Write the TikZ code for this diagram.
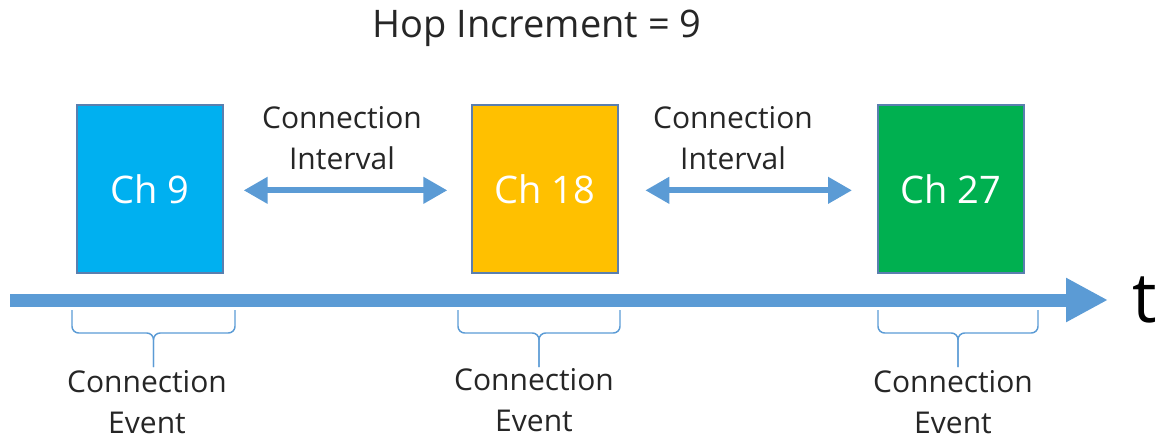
\documentclass[tikz,border=0pt]{standalone}
\usepackage{fontspec}
\setmainfont{Open Sans}
\usetikzlibrary{arrows.meta,positioning}

\definecolor{chcyan}{HTML}{00B0F0}
\definecolor{chyellow}{HTML}{FFC000}
\definecolor{chgreen}{HTML}{00B050}
\definecolor{boxline}{HTML}{5A7FAF}
\definecolor{arrowblue}{HTML}{5B9BD5}
\definecolor{labeltext}{HTML}{262626}

\begin{document}
\begin{tikzpicture}[
        x=0.75pt, y=-0.75pt,
        chbox/.style={draw=boxline, line width=0.9pt, minimum width=109.5pt, minimum height=126pt,
                      inner sep=0pt, text=white, font=\fontsize{28.5}{30}\selectfont},
        lbl/.style={align=center, inner sep=0pt, text=labeltext, font=\fontsize{22.5}{31}\selectfont},
        interval/.style={{Triangle[length=18pt,width=19pt]}-{Triangle[length=18pt,width=19pt]}, arrowblue, line width=4.5pt},
        timeline/.style={-{Triangle[length=31.5pt,width=31pt]}, arrowblue, line width=9.75pt},
        brace/.style={arrowblue, line width=1.1pt, rounded corners=5pt}
        ]
        \useasboundingbox (0,0) rectangle (1158,440);

        % --- Title ---
        \node[lbl, font=\fontsize{28.5}{30}\selectfont] (title) at (537,28) {Hop Increment = 9};

        % --- Channel boxes ---
        \node[chbox, fill=chcyan]   (ch9)  at (150,189) {Ch 9};
        \node[chbox, fill=chyellow] (ch18) at (545,189) {Ch 18};
        \node[chbox, fill=chgreen]  (ch27) at (951,189) {Ch 27};

        % --- Connection intervals ---
        \draw[interval] ([xshift=15pt,yshift=-1pt]ch9.east) -- ([xshift=-18pt,yshift=-1pt]ch18.west);
        \draw[interval] ([xshift=20pt,yshift=-1pt]ch18.east) -- ([xshift=-19pt,yshift=-1pt]ch27.west);
        \node[lbl] (int1) at (342,138) {Connection\\Interval};
        \node[lbl] (int2) at (733,138) {Connection\\Interval};

        % --- Time axis ---
        \coordinate (tstart) at (10,300);
        \coordinate (tend)   at (1108,300);
        \draw[timeline] (tstart) -- (tend);
        \node[font=\fontsize{52}{54}\selectfont, inner sep=0pt] (tlabel) [right=18pt of tend] {t};

        % --- Connection events (braces) ---
        \coordinate (ev1l) at (72,310);   \coordinate (ev1r) at (235,310);
        \coordinate (ev2l) at (458,310);  \coordinate (ev2r) at (620,310);
        \coordinate (ev3l) at (878,310);  \coordinate (ev3r) at (1038,310);
        \draw[brace] (ev1l) -- ++(0,23) -- ++(81.5,0) -- ++(0,34);
        \draw[brace] (ev1r) -- ++(0,23) -- ++(-81.5,0) -- ++(0,34);
        \draw[brace] (ev2l) -- ++(0,23) -- ++(81,0) -- ++(0,34);
        \draw[brace] (ev2r) -- ++(0,23) -- ++(-81,0) -- ++(0,34);
        \draw[brace] (ev3l) -- ++(0,23) -- ++(80,0) -- ++(0,34);
        \draw[brace] (ev3r) -- ++(0,23) -- ++(-80,0) -- ++(0,34);
        \node[lbl] (ev1) at (147,402) {Connection\\Event};
        \node[lbl] (ev2) at (534,400) {Connection\\Event};
        \node[lbl] (ev3) at (953,402) {Connection\\Event};

    \end{tikzpicture}
\end{document}
